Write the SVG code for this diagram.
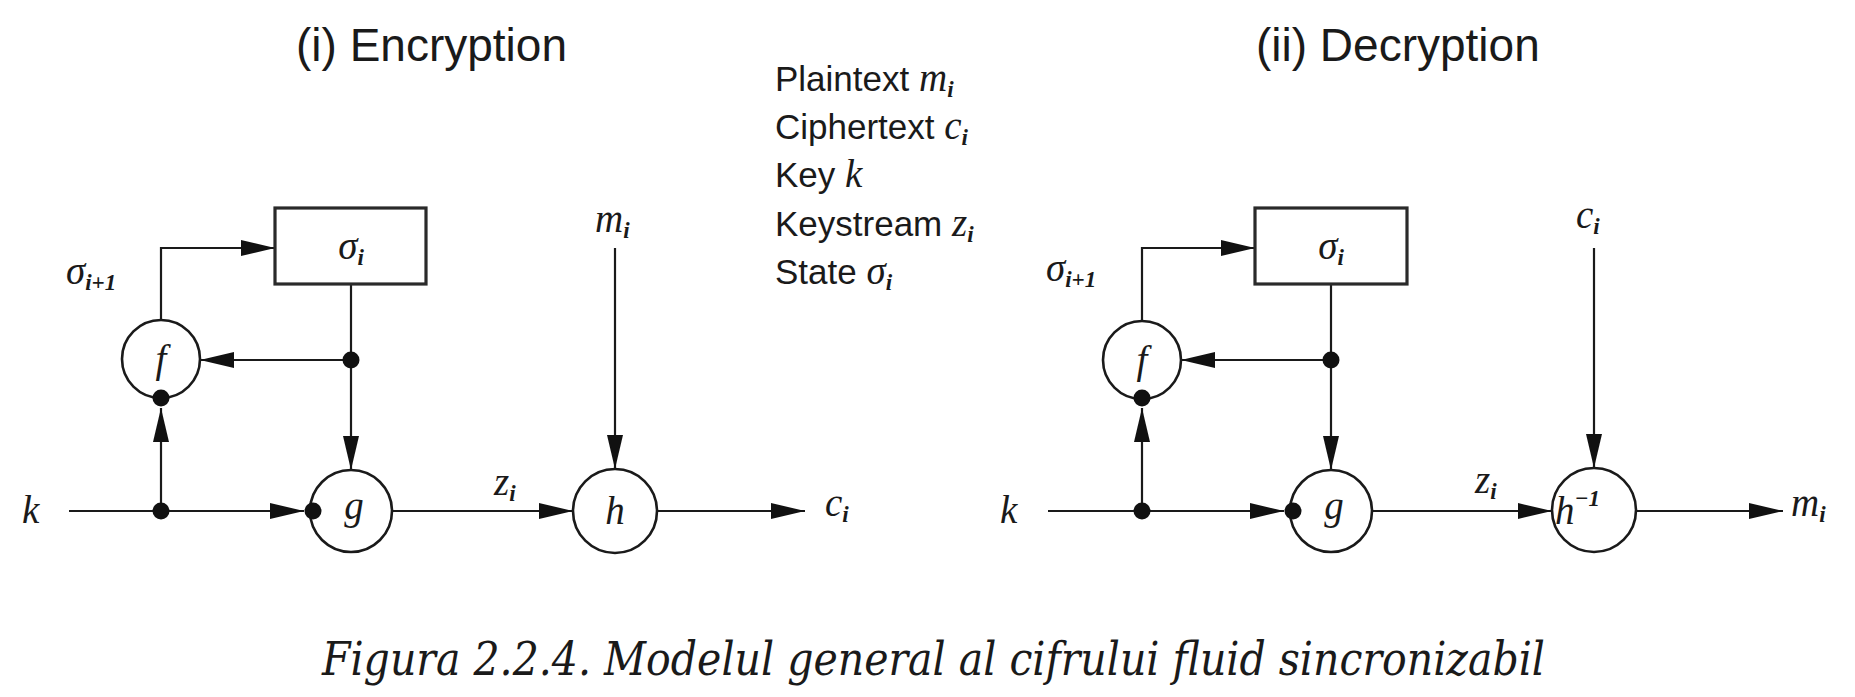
<svg xmlns="http://www.w3.org/2000/svg" width="1855" height="697" viewBox="0 0 1855 697">
<style>
.bg{fill:#ffffff}
.ln{stroke:#1a1a1a;stroke-width:2.2;fill:none}
.nd{stroke:#1a1a1a;stroke-width:2.6;fill:#ffffff}
.bx{stroke:#2a2a2a;stroke-width:3.2;fill:#ffffff}
.dot{fill:#111111}
.ttl{font-family:"Liberation Sans",Arial,sans-serif;font-size:46px;fill:#1a1a1a}
.leg{font-family:"Liberation Sans",Arial,sans-serif;font-size:35px;fill:#1a1a1a}
.m{font-family:"Liberation Serif","Times New Roman",serif;font-style:italic;font-size:39px;fill:#1a1a1a}
.s{font-size:23px;font-weight:bold}
.cap{font-family:"DejaVu Serif","Liberation Serif",serif;font-style:italic;font-size:46px;fill:#1a1a1a}
</style>
<defs>
<marker id="ah" markerUnits="userSpaceOnUse" markerWidth="36" markerHeight="18" refX="34" refY="8" orient="auto">
<path d="M0,0 L34,8 L0,16 Z" fill="#111111"/>
</marker>
</defs>
<rect class="bg" x="0" y="0" width="1855" height="697"/>

<text class="ttl" x="296" y="61">(i) Encryption</text>
<text class="ttl" x="1256" y="61">(ii) Decryption</text>

<g id="legend">
<text class="leg" x="775" y="91">Plaintext <tspan class="m">m<tspan class="s" dy="6">i</tspan></tspan></text>
<text class="leg" x="775" y="139">Ciphertext <tspan class="m">c<tspan class="s" dy="6">i</tspan></tspan></text>
<text class="leg" x="775" y="187">Key <tspan class="m">k</tspan></text>
<text class="leg" x="775" y="236">Keystream <tspan class="m">z<tspan class="s" dy="6">i</tspan></tspan></text>
<text class="leg" x="775" y="284">State <tspan class="m">σ<tspan class="s" dy="6">i</tspan></tspan></text>
</g>

<g id="connectors">
<!-- encryption -->
<polyline class="ln" points="161,320 161,248 275,248" marker-end="url(#ah)"/>
<line class="ln" x1="351" y1="284" x2="351" y2="470" marker-end="url(#ah)"/>
<line class="ln" x1="351" y1="360" x2="200" y2="360" marker-end="url(#ah)"/>
<line class="ln" x1="69" y1="511" x2="304" y2="511" marker-end="url(#ah)"/>
<line class="ln" x1="161" y1="511" x2="161" y2="408" marker-end="url(#ah)"/>
<line class="ln" x1="392" y1="511" x2="573" y2="511" marker-end="url(#ah)"/>
<line class="ln" x1="615" y1="248" x2="615" y2="469" marker-end="url(#ah)"/>
<line class="ln" x1="657" y1="511" x2="805" y2="511" marker-end="url(#ah)"/>
<!-- decryption -->
<polyline class="ln" points="1142,321 1142,248 1255,248" marker-end="url(#ah)"/>
<line class="ln" x1="1331" y1="284" x2="1331" y2="470" marker-end="url(#ah)"/>
<line class="ln" x1="1331" y1="360" x2="1181" y2="360" marker-end="url(#ah)"/>
<line class="ln" x1="1048" y1="511" x2="1284" y2="511" marker-end="url(#ah)"/>
<line class="ln" x1="1142" y1="511" x2="1142" y2="408" marker-end="url(#ah)"/>
<line class="ln" x1="1372" y1="511" x2="1552" y2="511" marker-end="url(#ah)"/>
<line class="ln" x1="1594" y1="248" x2="1594" y2="468" marker-end="url(#ah)"/>
<line class="ln" x1="1636" y1="511" x2="1783" y2="511" marker-end="url(#ah)"/>
</g>

<!-- encryption nodes -->
<g id="enc-state">
<rect class="bx" x="275" y="208" width="151" height="76"/>
<text class="m" x="351" y="259" text-anchor="middle">σ<tspan class="s" dy="6">i</tspan></text>
</g>
<g id="enc-f">
<circle class="nd" cx="161" cy="359" r="39"/>
<text class="m" x="161" y="372" text-anchor="middle">f</text>
</g>
<g id="enc-g">
<circle class="nd" cx="351" cy="511" r="41"/>
<text class="m" x="354" y="519" text-anchor="middle">g</text>
</g>
<g id="enc-h">
<circle class="nd" cx="615" cy="511" r="42"/>
<text class="m" x="615" y="524" text-anchor="middle">h</text>
</g>
<g id="enc-dots">
<circle class="dot" cx="351" cy="360" r="8.5"/>
<circle class="dot" cx="161" cy="398" r="8.5"/>
<circle class="dot" cx="161" cy="511" r="8.5"/>
<circle class="dot" cx="313" cy="511" r="8.5"/>
</g>
<g id="enc-labels">
<text class="m" x="66" y="284">σ<tspan class="s" dy="6">i+1</tspan></text>
<text class="m" x="22" y="523">k</text>
<text class="m" x="494" y="495">z<tspan class="s" dy="6">i</tspan></text>
<text class="m" x="595" y="232">m<tspan class="s" dy="6">i</tspan></text>
<text class="m" x="825" y="516">c<tspan class="s" dy="6">i</tspan></text>
</g>

<!-- decryption nodes -->
<g id="dec-state">
<rect class="bx" x="1255" y="208" width="152" height="76"/>
<text class="m" x="1331" y="259" text-anchor="middle">σ<tspan class="s" dy="6">i</tspan></text>
</g>
<g id="dec-f">
<circle class="nd" cx="1142" cy="360" r="39"/>
<text class="m" x="1142" y="373" text-anchor="middle">f</text>
</g>
<g id="dec-g">
<circle class="nd" cx="1331" cy="511" r="41"/>
<text class="m" x="1334" y="519" text-anchor="middle">g</text>
</g>
<g id="dec-hinv">
<circle class="nd" cx="1594" cy="510" r="42"/>
<text class="m" x="1555" y="524">h<tspan class="s" dy="-18">−1</tspan></text>
</g>
<g id="dec-dots">
<circle class="dot" cx="1331" cy="360" r="8.5"/>
<circle class="dot" cx="1142" cy="398" r="8.5"/>
<circle class="dot" cx="1142" cy="511" r="8.5"/>
<circle class="dot" cx="1293" cy="511" r="8.5"/>
</g>
<g id="dec-labels">
<text class="m" x="1046" y="281">σ<tspan class="s" dy="6">i+1</tspan></text>
<text class="m" x="1000" y="523">k</text>
<text class="m" x="1475" y="493">z<tspan class="s" dy="6">i</tspan></text>
<text class="m" x="1576" y="228">c<tspan class="s" dy="6">i</tspan></text>
<text class="m" x="1791" y="516">m<tspan class="s" dy="6">i</tspan></text>
</g>

<text class="cap" x="322" y="675" textLength="1223" lengthAdjust="spacingAndGlyphs">Figura 2.2.4. Modelul general al cifrului fluid sincronizabil</text>
</svg>
